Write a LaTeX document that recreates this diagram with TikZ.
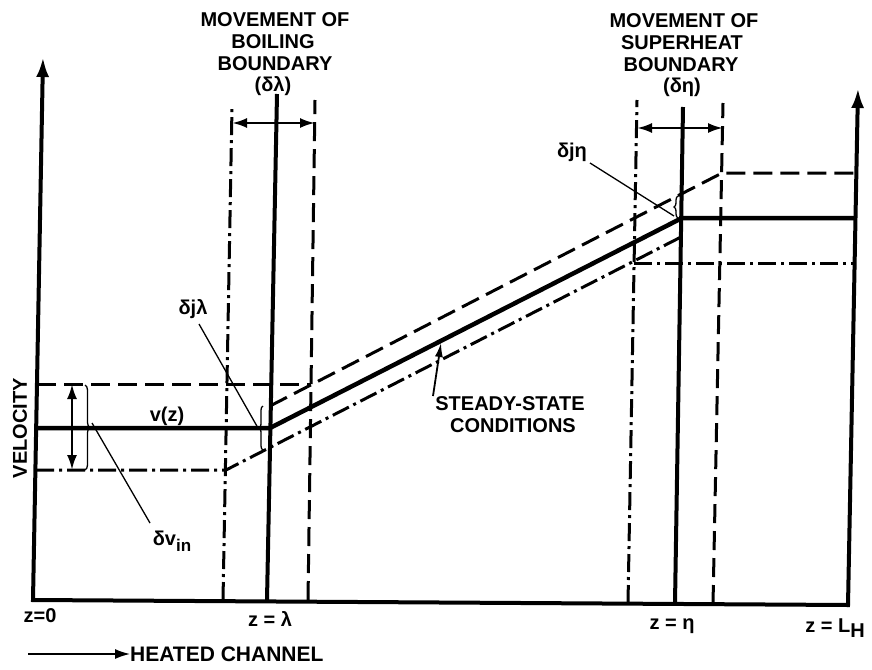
\documentclass[tikz,border=0pt]{standalone}
\usepackage{fontspec}
\setmainfont{Liberation Sans}
\usetikzlibrary{arrows.meta,decorations.pathreplacing}
\begin{document}
\begin{tikzpicture}[x=1pt,y=-1pt,
  lbl/.style={font=\fontsize{20}{22}\selectfont\bfseries, inner sep=0pt},
  axisline/.style={line width=4pt},
  prof/.style={line width=4.5pt},
  bnd/.style={line width=4pt},
  dsh/.style={line width=3pt, dash pattern=on 19pt off 8pt},
  dshdot/.style={line width=3pt, dash pattern=on 18pt off 5pt on 3pt off 5pt},
  leader/.style={line width=1.3pt},
  axtip/.style={-{Latex[length=20pt,width=13pt]}},
  dbl/.style={line width=2.5pt,{Latex[length=15pt,width=10pt]}-{Latex[length=15pt,width=10pt]}},
  brc/.style={line width=1.3pt, decorate, decoration={brace,amplitude=5pt}}
]
\useasboundingbox (0,0) rectangle (872,669);
% axes
\coordinate (O) at (33,600);
\coordinate (Ytop) at (43,57);
\coordinate (E) at (848,605);
\coordinate (Rtop) at (858,88);
\draw[axisline, axtip] (E) -- (O) -- (Ytop);
\draw[axisline, axtip, line cap=rect] (E) -- (Rtop);
% boundary verticals (left)
\coordinate (LdB) at (223,600); \coordinate (LdT) at (232,107);
\coordinate (LsB) at (267,600); \coordinate (LsT) at (277,94);
\coordinate (LeB) at (308,600); \coordinate (LeT) at (315,100);
\draw[dshdot] (LdB) -- (LdT);
\draw[bnd] (LsB) -- (LsT);
\draw[dsh] (LeB) -- (LeT);
% boundary verticals (right)
\coordinate (RdB) at (628,603); \coordinate (RdT) at (637,100);
\coordinate (RsB) at (675,603); \coordinate (RsT) at (683,107);
\coordinate (ReB) at (713,604); \coordinate (ReT) at (723,103);
\draw[dshdot] (RdB) -- (RdT);
\draw[bnd] (RsB) -- (RsT);
\draw[dsh] (ReB) -- (ReT);
% steady-state profile
\coordinate (s1) at (37,428); \coordinate (s2) at (270,428);
\coordinate (s3) at (682,218); \coordinate (s4) at (855,218);
\draw[prof] (s1) -- (s2) -- (s3) -- (s4);
% dashed profile
\coordinate (a1) at (37,384); \coordinate (a2) at (311,384);
\coordinate (a3) at (270,406); \coordinate (a4) at (722,173);
\coordinate (a5) at (856,173);
\draw[dsh] (a1) -- (a2);
\draw[dsh] (a3) -- (a4) -- (a5);
% dash-dot profile
\coordinate (b1) at (36,470); \coordinate (b2) at (226,470);
\coordinate (b3) at (681,237); \coordinate (b4) at (634,263);
\coordinate (b5) at (855,263);
\draw[dshdot] (b1) -- (b2) -- (b3);
\draw[dshdot] (b4) -- (b5);
% top double arrows
\coordinate (la1) at (232,123); \coordinate (la2) at (315,123);
\coordinate (ra1) at (637,128); \coordinate (ra2) at (723,128);
\draw[dbl] (la1) -- (la2);
\draw[dbl] (ra1) -- (ra2);
% velocity double arrow
\coordinate (va1) at (72,384); \coordinate (va2) at (72,470);
\draw[dbl] (va1) -- (va2);
% braces
\coordinate (br1) at (85,385); \coordinate (br2) at (85,470);
\draw[brc] (br1) -- (br2);
\coordinate (bj1) at (263,450); \coordinate (bj2) at (263,406);
\draw[brc, decoration={brace,amplitude=4pt}] (bj1) -- (bj2);
\coordinate (bh1) at (678,218); \coordinate (bh2) at (678,196);
\draw[brc, decoration={brace,amplitude=4pt}] (bh1) -- (bh2);
% top labels
\node[lbl] (m1) at (275,20) {MOVEMENT OF};
\node[lbl] (m2) at (273,42) {BOILING};
\node[lbl] (m3) at (275,64) {BOUNDARY};
\node[lbl] (m4) at (273,86) {(δλ)};
\node[lbl] (n1) at (684,21) {MOVEMENT OF};
\node[lbl] (n2) at (682,43) {SUPERHEAT};
\node[lbl] (n3) at (681,65) {BOUNDARY};
\node[lbl] (n4) at (682,87) {(δη)};
% steady state
\node[lbl] (ss1) at (510,404) {STEADY-STATE};
\node[lbl] (ss2) at (513,426) {CONDITIONS};
\coordinate (ssA) at (441,343);
\draw[line width=1.8pt, -{Latex[length=14pt,width=8pt]}] (433,396) -- (ssA);
% v(z), delta labels
\node[lbl] (vz) at (167,416) {v(z)};
\node[lbl] (dvin) at (172,541) {δv\raisebox{-6pt}{\fontsize{17}{17}\selectfont in}};
\coordinate (dvinL) at (150,523);
\coordinate (brc1tip) at (92,423);
\draw[leader] (brc1tip) -- (dvinL);
\node[lbl] (djl) at (193,309) {δjλ};
\coordinate (djlL) at (199,324);
\coordinate (djlE) at (258,428);
\draw[leader] (djlL) -- (djlE);
\node[lbl] (djh) at (572,152) {δjη};
\coordinate (djhL) at (590,163);
\coordinate (djhE) at (674,216);
\draw[leader] (djhL) -- (djhE);
% axis labels
\node[lbl, rotate=90] (vel) at (20,428) {VELOCITY};
\node[lbl] (z0) at (40,616) {z=0};
\node[lbl] (zl) at (270,619) {z = λ};
\node[lbl] (ze) at (672,626) {z = η};
\node[lbl] (zL) at (835,628) {z = L\raisebox{-5pt}{H}};
\coordinate (hc1) at (28,654);
\node[lbl, anchor=west, font=\fontsize{21}{22}\selectfont\bfseries] (hc) at (130,654) {HEATED CHANNEL};
\draw[line width=1.5pt, -{Latex[length=15pt,width=10pt]}] (hc1) -- (hc.west);
\end{tikzpicture}
\end{document}
